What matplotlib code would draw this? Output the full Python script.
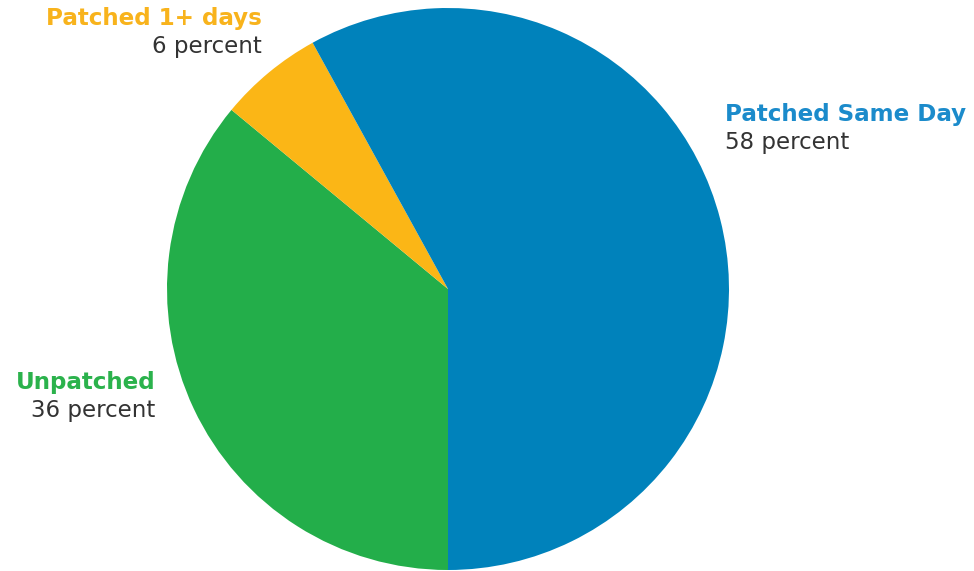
import matplotlib.pyplot as plt

# ── data ──────────────────────────────────────────────
labels  = ['Unpatched', 'Patched 1+ days', 'Patched Same Day']
shares  = [36, 6, 58]
pct_txt = ['36 percent', '6 percent', '58 percent']
colors  = ['#23AE4A', '#FBB616', '#0082BB']
label_colors = ['#2BB24C', '#F8B31C', '#1B8BCB']

plt.rcParams['font.family'] = ['DejaVu Sans']

W, H = 974, 571
fig = plt.figure(figsize=(W / 100, H / 100), dpi=100)
ax = fig.add_axes([0, 0, 1, 1])

# pie drawn clockwise from 6 o'clock
ax.pie(shares, colors=colors, startangle=-90, counterclock=False,
       center=(448, H - 289), radius=281,
       wedgeprops=dict(linewidth=0))
ax.set_xlim(0, W)
ax.set_ylim(0, H)
ax.set_aspect('equal')
ax.axis('off')

# label placement (pixel coords, y from top)
pos = {
    'Unpatched':        (155, 383, 411, 'right'),
    'Patched 1+ days':  (262, 19, 47, 'right'),
    'Patched Same Day': (725, 114, 143, 'left'),
}
for lab, pt, lc in zip(labels, pct_txt, label_colors):
    x, y1, y2, ha = pos[lab]
    ax.text(x, H - y1, lab, color=lc, fontsize=16.6, fontweight='bold',
            ha=ha, va='center')
    ax.text(x, H - y2, pt, color='#333333', fontsize=16.5,
            ha=ha, va='center')

plt.savefig('out.png', dpi=100)
